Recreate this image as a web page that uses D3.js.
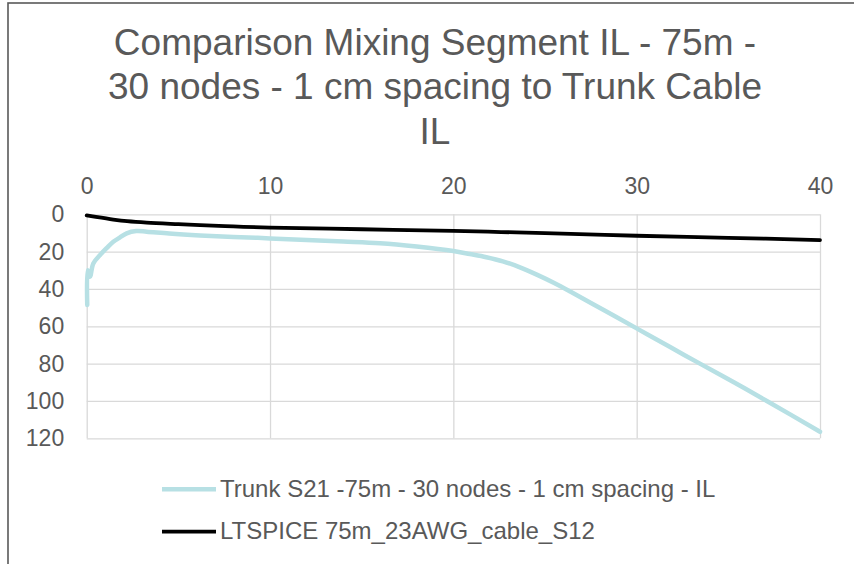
<!DOCTYPE html>
<html>
<head>
<meta charset="utf-8">
<script src="https://cdn.jsdelivr.net/npm/d3@7"></script>
<style>
    html, body { margin: 0; padding: 0; background: #fff; }
    svg text { font-family: "Liberation Sans", Arial, sans-serif; fill: #595959; }
</style>
</head>
<body>
<div id="d3-line-graph"></div>
<script>
// DATA
const titleLines = ["Comparison Mixing Segment IL - 75m -", "30 nodes - 1 cm spacing to Trunk Cable", "IL"];
const xTicks = [0, 10, 20, 30, 40];
const yTicks = [0, 20, 40, 60, 80, 100, 120];

const trunkName = "Trunk S21 -75m - 30 nodes - 1 cm spacing - IL";
const trunkX = [0.03, 0.05, 0.18, 0.36, 0.73, 1.1, 1.45, 1.8, 2.18, 2.7, 3.27, 4.5, 6.18, 8, 10, 12, 14, 16, 18, 20, 20.9, 21.8, 22.7, 23.6, 24.55, 25.5, 26.4, 28.2, 30, 31.8, 33.45, 35.3, 37.1, 40];
const trunkY = [48.6, 30, 33.4, 26.3, 21.8, 18, 14.7, 12.5, 10.2, 9.0, 9.3, 10.3, 11.3, 12.1, 12.9, 13.8, 14.6, 15.5, 17.3, 19.7, 21.3, 23.0, 25.2, 28.3, 32.3, 36.8, 41.5, 51.3, 61.1, 71.0, 80, 90, 100, 116.5];

const spiceName = "LTSPICE 75m_23AWG_cable_S12";
const spiceX = [0, 0.5, 1.45, 2.2, 3.27, 5, 6.18, 8, 10, 15, 20, 22.6, 25, 30, 35, 40];
const spiceY = [0.6, 1.4, 2.8, 3.7, 4.5, 5.3, 5.8, 6.5, 7.1, 8.0, 8.9, 9.5, 10.1, 11.5, 12.6, 13.8];

function createLineGraph() {

    const width = 854;
    const height = 564;
    const plot = { left: 86.7, right: 820, top: 214.3, bottom: 438.3 };

    const svg = d3.select("#d3-line-graph")
        .append("svg")
        .attr("width", width)
        .attr("height", height);

    // chart border (cut off on right and bottom)
    svg.append("rect")
        .attr("x", 8)
        .attr("y", 3)
        .attr("width", 1000)
        .attr("height", 1000)
        .attr("fill", "none")
        .attr("stroke", "#595959")
        .attr("stroke-width", 1.6);

    // TITLE
    svg.append("g")
        .selectAll("text")
        .data(titleLines)
        .enter().append("text")
        .attr("x", 435)
        .attr("y", (d, i) => 55 + i * 44.3)
        .attr("text-anchor", "middle")
        .style("font-size", "37px")
        .text(d => d);

    // SCALES
    const x = d3.scaleLinear().domain([0, 40]).range([plot.left, plot.right]);
    const y = d3.scaleLinear().domain([0, 120]).range([plot.top, plot.bottom]);

    // grid lines
    svg.append("g")
        .attr("transform", `translate(0,${plot.top})`)
        .call(d3.axisTop(x).tickValues(xTicks).tickSize(-(plot.bottom - plot.top)).tickFormat(""))
        .call(g => g.select(".domain").remove())
        .selectAll("line")
        .attr("stroke", "#d9d9d9")
        .attr("stroke-width", 1.3);

    svg.append("g")
        .attr("transform", `translate(${plot.left},0)`)
        .call(d3.axisLeft(y).tickValues(yTicks).tickSize(-(plot.right - plot.left)).tickFormat(""))
        .call(g => g.select(".domain").remove())
        .selectAll("line")
        .attr("stroke", "#d9d9d9")
        .attr("stroke-width", 1.3);

    // X axis labels (top)
    svg.append("g")
        .attr("transform", `translate(0,${plot.top})`)
        .call(d3.axisTop(x).tickValues(xTicks).tickSize(0).tickPadding(20))
        .call(g => g.select(".domain").remove())
        .selectAll("text")
        .style("font-size", "23px")
        .attr("fill", "#595959");

    // Y axis labels
    svg.append("g")
        .attr("transform", `translate(${plot.left},0)`)
        .call(d3.axisLeft(y).tickValues(yTicks).tickSize(0).tickPadding(22.5))
        .call(g => g.select(".domain").remove())
        .selectAll("text")
        .style("font-size", "23px")
        .attr("fill", "#595959");

    // LINES
    const series = [
        { name: trunkName, xs: trunkX, ys: trunkY, color: "#b7e0e4", w: 4.5 },
        { name: spiceName, xs: spiceX, ys: spiceY, color: "#000000", w: 3.8 }
    ];

    const line = d3.line()
        .x(d => x(d[0]))
        .y(d => y(d[1]))
        .curve(d3.curveCatmullRom.alpha(0.5));

    series.forEach(s => {
        svg.append("path")
            .datum(s.xs.map((v, i) => [v, s.ys[i]]))
            .attr("fill", "none")
            .attr("stroke", s.color)
            .attr("stroke-width", s.w)
            .attr("stroke-linejoin", "round")
            .attr("stroke-linecap", "round")
            .attr("d", line);
    });

    // LEGEND
    const legend = svg.append("g")
        .selectAll("g")
        .data(series)
        .enter().append("g")
        .attr("transform", (d, i) => `translate(0,${489.3 + i * 42.4})`);

    legend.append("line")
        .attr("x1", 162)
        .attr("x2", 216)
        .attr("stroke", d => d.color)
        .attr("stroke-width", d => d.w);

    legend.append("text")
        .attr("x", 220)
        .attr("y", 7.6)
        .style("font-size", "24px")
        .text(d => d.name);
}

document.addEventListener("DOMContentLoaded", createLineGraph);
</script>
</body>
</html>
